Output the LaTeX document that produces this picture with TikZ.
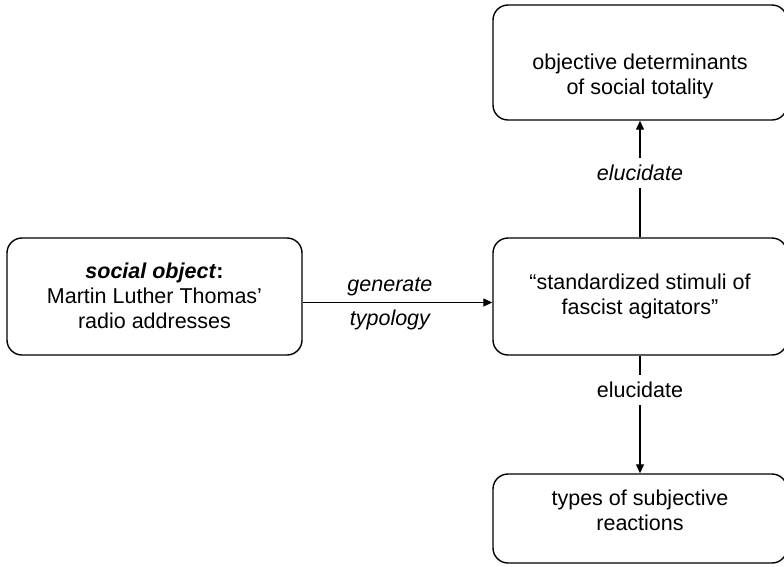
\documentclass[tikz,border=0pt]{standalone}
\usepackage{fontspec}
\setmainfont{Liberation Sans}
\usetikzlibrary{arrows.meta}
\begin{document}
\begin{tikzpicture}[x=1pt,y=-1pt,
  every node/.style={font=\fontsize{21.5}{25}\selectfont},
  box/.style={draw, line width=1.4pt, rounded corners=15pt, inner sep=0pt},
  txt/.style={align=center, inner sep=0pt},
  link/.style={line width=1.2pt, -{Triangle[length=9pt,width=8pt]}},
  lbl/.style={fill=white, inner xsep=2pt, inner ysep=7pt}]
  \useasboundingbox (0,0) rectangle (784,566);
  \begin{scope}
    \clip (0,0) rectangle (784,566);
    % boxes
    \node[box, minimum width=295pt, minimum height=117pt] (l) at (154.5,296.5) {};
    \node[box, minimum width=294pt, minimum height=117pt] (m) at (640,296.5) {};
    \node[box, minimum width=294pt, minimum height=115pt] (t) at (640,62.5) {};
    \node[box, minimum width=294pt, minimum height=89pt]  (b) at (640,518.5) {};
  \end{scope}
  % box texts
  \node[txt] (lt) at (154.5,296) {\textbf{\textit{social object}:}\\Martin Luther Thomas’\\radio addresses};
  \node[txt] (mt) at (640,296) {“standardized stimuli of\\fascist agitators”};
  \node[txt] (tt) at (640,76) {objective determinants\\of social totality};
  \node[txt] (bt) at (640,510) {types of subjective\\reactions};
  % connectors
  \draw[link] (l.east |- 0,302.5) -- (m.west |- 0,302.5)
    node[pos=0.46, above=3pt, font=\fontsize{21.5}{25}\selectfont\itshape] (g1) {generate}
    node[pos=0.46, below=3pt, font=\fontsize{21.5}{25}\selectfont\itshape] (g2) {typology};
  \draw[link] (m.north) -- (t.south)
    node[pos=0.55, lbl, font=\fontsize{21.5}{25}\selectfont\itshape] (e1) {elucidate};
  \draw[link] (m.south) -- (b.north)
    node[pos=0.29, lbl] (e2) {elucidate};
\end{tikzpicture}
\end{document}
